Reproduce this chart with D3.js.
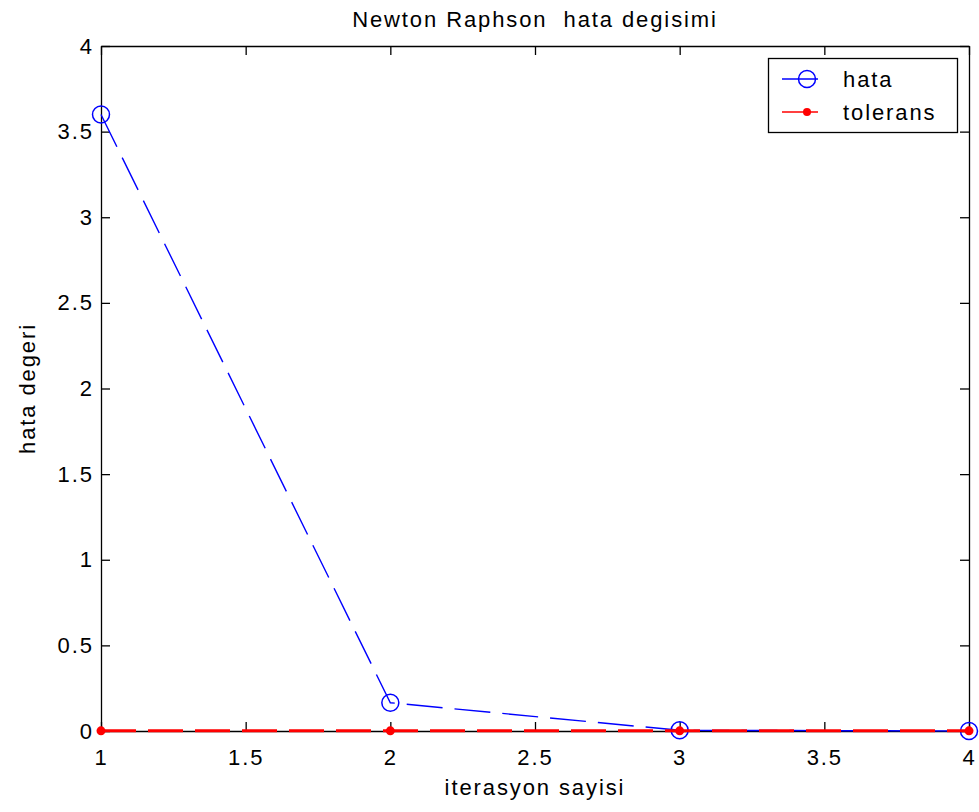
<!DOCTYPE html>
<html>
<head>
<meta charset="utf-8">
<script src="https://cdn.jsdelivr.net/npm/d3@7"></script>
<style>
  html, body { margin: 0; padding: 0; background: #fff; }
  svg { display: block; }
  text { font-family: "Liberation Sans", Arial, sans-serif; font-size: 22px; letter-spacing: 1.9px; fill: #000; white-space: pre; }
</style>
</head>
<body>
<svg id="chart" width="979" height="812"></svg>
<script>
// Newton-Raphson error per iteration, with the tolerance level
const iterations = [1, 2, 3, 4];
const hata = [3.6, 0.165, 0.004, 0.00002];
const tolerans = [0.001, 0.001, 0.001, 0.001];
const xTicks = [1, 1.5, 2, 2.5, 3, 3.5, 4];
const yTicks = [0, 0.5, 1, 1.5, 2, 2.5, 3, 3.5, 4];
const titleText = "Newton Raphson  hata degisimi";
const xLabel = "iterasyon sayisi";
const yLabel = "hata degeri";
const legendNames = ["hata", "tolerans"];

const svg = d3.select("#chart");
const W = 979, H = 812;
const m = { left: 101, top: 46, right: 10, bottom: 81 };
const pw = W - m.left - m.right;   // 868
const ph = H - m.top - m.bottom;   // 685

const x = d3.scaleLinear().domain([1, 4]).range([m.left, m.left + pw]);
const y = d3.scaleLinear().domain([0, 4]).range([m.top + ph, m.top]);

const fmt = d => String(d);
const tickLen = 9;

// Box axes with inward ticks on all four sides
svg.append("g").attr("class", "ax")
  .attr("transform", `translate(0,${m.top + ph})`)
  .call(d3.axisBottom(x).tickValues(xTicks).tickFormat(fmt)
    .tickSizeInner(-tickLen).tickSizeOuter(0).tickPadding(18));
svg.append("g").attr("class", "ax")
  .attr("transform", `translate(0,${m.top})`)
  .call(d3.axisTop(x).tickValues(xTicks).tickFormat("")
    .tickSizeInner(-tickLen).tickSizeOuter(0));
svg.append("g").attr("class", "ax ay")
  .attr("transform", `translate(${m.left},0)`)
  .call(d3.axisLeft(y).tickValues(yTicks).tickFormat(fmt)
    .tickSizeInner(-tickLen).tickSizeOuter(0).tickPadding(9));
svg.append("g").attr("class", "ax")
  .attr("transform", `translate(${m.left + pw},0)`)
  .call(d3.axisRight(y).tickValues(yTicks).tickFormat("")
    .tickSizeInner(-tickLen).tickSizeOuter(0));

svg.selectAll(".ax path.domain").attr("stroke", "#000").attr("stroke-width", 1.3);
svg.selectAll(".ax line").attr("stroke", "#000").attr("stroke-width", 1.3);
svg.selectAll(".ax text")
  .attr("font-family", "Liberation Sans, Arial, sans-serif")
  .attr("font-size", 22).attr("fill", "#000");
svg.selectAll(".ay text").attr("dx", "1.9px");

// Error line: blue dashed with open circles
const line = d3.line().x((d, i) => x(iterations[i])).y(d => y(d));

svg.append("path").datum(hata)
  .attr("d", line)
  .attr("fill", "none").attr("stroke", "#0000ff").attr("stroke-width", 1.4)
  .attr("stroke-dasharray", "36 12");
svg.append("g").selectAll("circle").data(hata).join("circle")
  .attr("cx", (d, i) => x(iterations[i])).attr("cy", d => y(d)).attr("r", 8.5)
  .attr("fill", "none").attr("stroke", "#0000ff").attr("stroke-width", 1.5);

// Tolerance line: red dashed with dots
svg.append("path").datum(tolerans)
  .attr("d", line)
  .attr("fill", "none").attr("stroke", "#ff0000").attr("stroke-width", 3)
  .attr("stroke-dasharray", "35 12");
svg.append("g").selectAll("circle").data(tolerans).join("circle")
  .attr("cx", (d, i) => x(iterations[i])).attr("cy", d => y(d)).attr("r", 4.5)
  .attr("fill", "#ff0000");

// Title and axis labels
svg.append("text").attr("x", m.left + pw / 2).attr("y", 27)
  .attr("xml:space", "preserve")
  .attr("text-anchor", "middle").text(titleText);
svg.append("text").attr("x", m.left + pw / 2).attr("y", 795)
  .attr("text-anchor", "middle").text(xLabel);
svg.append("text")
  .attr("transform", `translate(35,${m.top + ph / 2}) rotate(-90)`)
  .attr("text-anchor", "middle").text(yLabel);

// Legend
const lg = svg.append("g");
lg.append("rect").attr("x", 768.5).attr("y", 58.5).attr("width", 189).attr("height", 74)
  .attr("fill", "#fff").attr("stroke", "#000").attr("stroke-width", 1.3);
const rowY = [79, 112];
const colors = ["#0000ff", "#ff0000"];
legendNames.forEach((name, i) => {
  lg.append("line").attr("x1", 782).attr("x2", 818).attr("y1", rowY[i]).attr("y2", rowY[i])
    .attr("stroke", colors[i]).attr("stroke-width", i === 0 ? 1.4 : 1.6);
  if (i === 0) {
    lg.append("circle").attr("cx", 807).attr("cy", rowY[i]).attr("r", 8.5)
      .attr("fill", "none").attr("stroke", colors[i]).attr("stroke-width", 1.5);
  } else {
    lg.append("circle").attr("cx", 807).attr("cy", rowY[i]).attr("r", 4)
      .attr("fill", colors[i]);
  }
  lg.append("text").attr("x", 843).attr("y", rowY[i] + 8).text(name);
});
</script>
</body>
</html>
